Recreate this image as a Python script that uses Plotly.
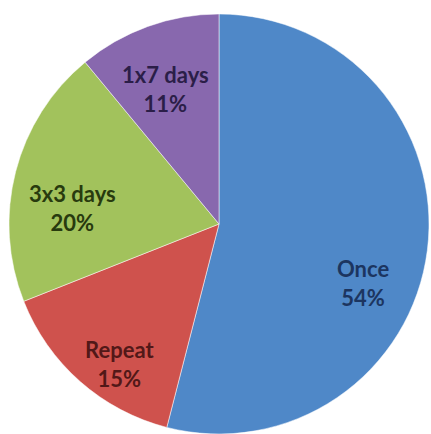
import math
import plotly.graph_objects as go

labels = ["Once", "Repeat", "3x3 days", "1x7 days"]
values = [54, 15, 20, 11]

# styles
slice_colors = ["#4F88C8", "#CF524D", "#A2C25C", "#8868AE"]
text_colors = ["#1C3560", "#521818", "#283A0E", "#2B1E48"]
label_r = [0.74, 0.82, 0.70, 0.69]      # radial position as fraction of radius
label_shift = [15, -6, -8, -2]          # angular nudge, degrees

W, H = 431, 434
dom_x = [9 / W, 429 / W]
dom_y = [0.0, 420 / H]

fig = go.Figure(go.Pie(
    labels=labels,
    values=values,
    sort=False,
    direction="clockwise",
    rotation=0,
    marker=dict(colors=slice_colors, line=dict(color="rgba(255,255,255,0.5)", width=1)),
    textinfo="none",
    showlegend=False,
    hoverinfo="skip",
    domain=dict(x=dom_x, y=dom_y),
))

# geometry of the pie in pixels
dw = (dom_x[1] - dom_x[0]) * W
dh = (dom_y[1] - dom_y[0]) * H
R = min(dw, dh) / 2
cx = (dom_x[0] + dom_x[1]) / 2 * W
cy_paper = (dom_y[0] + dom_y[1]) / 2 * H  # from bottom

total = sum(values)
cum = 0
for i, (lab, v) in enumerate(zip(labels, values)):
    mid = (cum + v / 2) / total * 360 + label_shift[i]
    cum += v
    th = math.radians(mid)
    px = cx + label_r[i] * R * math.sin(th)
    py = cy_paper + label_r[i] * R * math.cos(th)
    pct = round(v / total * 100)
    fig.add_annotation(
        x=px / W, y=py / H, xref="paper", yref="paper",
        xanchor="center", yanchor="middle",
        text=f"{lab}<br>{pct}%", showarrow=False,
        font=dict(family="Lato", size=22, color=text_colors[i], weight="bold"),
        align="center",
    )

fig.update_layout(
    width=W, height=H,
    margin=dict(l=0, r=0, t=0, b=0),
    paper_bgcolor="white",
    plot_bgcolor="white",
)

fig.write_html("out.html")
